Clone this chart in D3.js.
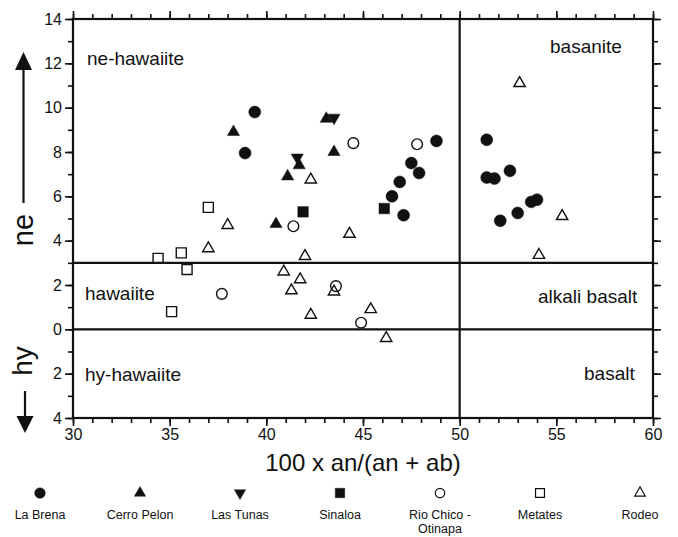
<!DOCTYPE html>
<html>
<head>
<meta charset="utf-8">
<script src="https://cdn.jsdelivr.net/npm/d3@7"></script>
<style>
  body { margin: 0; background: #fff; }
  text { font-family: "Liberation Sans", Arial, sans-serif; fill: #111; }
</style>
</head>
<body>
<div id="chart"></div>
<script>
// data: [100 x an/(an+ab), ne (+) / hy (-)]
var laBrena = [[39.4, 9.8], [38.9, 7.95], [48.8, 8.5], [47.5, 7.5], [47.9, 7.05], [46.9, 6.65],
  [46.5, 6.0], [47.1, 5.15], [51.4, 8.55], [51.4, 6.85], [51.8, 6.8], [52.6, 7.15],
  [53.7, 5.75], [54.0, 5.85], [53.0, 5.25], [52.1, 4.9]];
var cerroPelon = [[38.3, 8.9], [43.1, 9.5], [43.5, 8.0], [41.7, 7.4], [41.1, 6.9], [40.5, 4.75]];
var lasTunas = [[43.5, 9.55], [41.6, 7.75]];
var sinaloa = [[41.9, 5.3], [46.1, 5.45]];
var rioChico = [[44.5, 8.4], [47.8, 8.35], [41.4, 4.65], [37.7, 1.6], [43.6, 1.95], [44.9, 0.3]];
var metates = [[37.0, 5.5], [34.4, 3.2], [35.6, 3.45], [35.9, 2.7], [35.1, 0.8]];
var rodeo = [[38.0, 4.7], [42.3, 6.75], [44.3, 4.3], [53.1, 11.1], [55.3, 5.1], [54.1, 3.35],
  [37.0, 3.65], [42.0, 3.3], [40.9, 2.6], [41.75, 2.25], [41.3, 1.75], [43.5, 1.7],
  [42.3, 0.65], [45.4, 0.9], [46.2, -0.4]];

var xTicks = [30, 35, 40, 45, 50, 55, 60];
var yTicks = [14, 12, 10, 8, 6, 4, 2, 0, -2, -4];
var boundaryX = [50];
var boundaryY = [3, 0];

var legendNames = ["La Brena", "Cerro Pelon", "Las Tunas", "Sinaloa", "Rio Chico -|Otinapa", "Metates", "Rodeo"];

var W = 678, H = 537;
var x = d3.scaleLinear().domain([30, 60]).range([73, 653]);
var y = d3.scaleLinear().domain([-4, 14]).range([418, 19]);

var svg = d3.select("#chart").append("svg")
  .attr("width", W)
  .attr("height", H);

// minor + major ticks on all four sides
function ticks(axisFn, minorVals, majorVals, labelled, transform) {
  svg.append("g")
    .attr("transform", transform)
    .call(axisFn.tickValues(minorVals).tickSize(5).tickFormat(""))
    .call(function(g) { g.select(".domain").remove(); });
  svg.append("g")
    .attr("class", "major")
    .attr("transform", transform)
    .call(axisFn.tickValues(majorVals).tickSize(8)
      .tickFormat(labelled ? function(d) { return Math.abs(d); } : ""))
    .call(function(g) { g.select(".domain").remove(); });
}
var xMinor = d3.range(30, 61, 1);
var yMinor = d3.range(-4, 15, 1);
ticks(d3.axisBottom(x), xMinor, xTicks, true, "translate(0," + y(-4) + ")");
ticks(d3.axisTop(x), xMinor, xTicks, false, "translate(0," + y(14) + ")");
ticks(d3.axisLeft(y), yMinor, yTicks, true, "translate(" + x(30) + ",0)");
ticks(d3.axisRight(y), yMinor, yTicks, false, "translate(" + x(60) + ",0)");

svg.selectAll(".tick line").attr("stroke", "#111").attr("stroke-width", 1.6);
svg.selectAll(".tick text")
  .style("font-size", "16px")
  .style("font-family", "'Liberation Sans', Arial, sans-serif")
  .attr("fill", "#111");

// frame
svg.append("rect")
  .attr("x", x(30)).attr("y", y(14))
  .attr("width", x(60) - x(30)).attr("height", y(-4) - y(14))
  .attr("fill", "none").attr("stroke", "#111").attr("stroke-width", 2.2);

// field boundaries
svg.selectAll(".hline").data(boundaryY).enter().append("line")
  .attr("x1", x(30)).attr("x2", x(60))
  .attr("y1", function(d) { return y(d); }).attr("y2", function(d) { return y(d); })
  .attr("stroke", "#111").attr("stroke-width", 2.2);
svg.selectAll(".vline").data(boundaryX).enter().append("line")
  .attr("x1", function(d) { return x(d); }).attr("x2", function(d) { return x(d); })
  .attr("y1", y(14)).attr("y2", y(-4))
  .attr("stroke", "#111").attr("stroke-width", 2.2);

// field names
var fields = [
  ["ne-hawaiite", 87, 65], ["basanite", 550, 53],
  ["hawaiite", 85, 300], ["alkali basalt", 538, 303],
  ["hy-hawaiite", 85, 381], ["basalt", 584, 380]
];
svg.selectAll(".field").data(fields).enter().append("text")
  .attr("x", function(d) { return d[1]; })
  .attr("y", function(d) { return d[2]; })
  .style("font-size", "19px")
  .text(function(d) { return d[0]; });

// symbols
var tri = d3.symbol().type(d3.symbolTriangle).size(64)();
var circ = d3.symbol().type(d3.symbolCircle).size(113)();
var ocirc = d3.symbol().type(d3.symbolCircle).size(90)();
var sq = d3.symbol().type(d3.symbolSquare).size(110)();
var osq = d3.symbol().type(d3.symbolSquare).size(100)();
var otri = d3.symbol().type(d3.symbolTriangle).size(56)();

var series = [
  { data: laBrena, path: circ, fill: "#111", rot: 0 },
  { data: cerroPelon, path: tri, fill: "#111", rot: 0 },
  { data: lasTunas, path: tri, fill: "#111", rot: 180 },
  { data: sinaloa, path: sq, fill: "#111", rot: 0 },
  { data: rioChico, path: ocirc, fill: "#fff", rot: 0 },
  { data: metates, path: osq, fill: "#fff", rot: 0 },
  { data: rodeo, path: otri, fill: "#fff", rot: 0 }
];

series.forEach(function(s) {
  svg.append("g").selectAll("path").data(s.data).enter().append("path")
    .attr("d", s.path)
    .attr("transform", function(d) {
      return "translate(" + x(d[0]) + "," + y(d[1]) + ") rotate(" + s.rot + ")";
    })
    .attr("fill", s.fill === "#fff" ? "none" : s.fill)
    .attr("stroke", "#111")
    .attr("stroke-width", s.fill === "#fff" ? 1.4 : 0.5);
});

// axis titles
svg.append("text")
  .attr("x", x(45)).attr("y", 471)
  .attr("text-anchor", "middle")
  .style("font-size", "24px")
  .text("100 x an/(an + ab)");

svg.append("text")
  .attr("transform", "translate(33,230) rotate(-90)")
  .attr("text-anchor", "middle")
  .style("font-size", "29px")
  .text("ne");
svg.append("text")
  .attr("transform", "translate(32,361) rotate(-90)")
  .attr("text-anchor", "middle")
  .style("font-size", "28px")
  .text("hy");

// arrows
svg.append("line").attr("x1", 23.5).attr("x2", 23.5).attr("y1", 203).attr("y2", 66)
  .attr("stroke", "#111").attr("stroke-width", 2.2);
svg.append("path").attr("d", "M23.5,52 L32,70 L15,70 Z").attr("fill", "#111");
svg.append("line").attr("x1", 25).attr("x2", 25).attr("y1", 391).attr("y2", 420)
  .attr("stroke", "#111").attr("stroke-width", 2.2);
svg.append("path").attr("d", "M25,433 L33.5,416 L16.5,416 Z").attr("fill", "#111");

// legend
var lx = d3.scalePoint().domain(legendNames).range([40, 640]);
var legend = svg.selectAll(".legend").data(legendNames).enter().append("g")
  .attr("transform", function(d) { return "translate(" + lx(d) + ",0)"; });

legend.append("path")
  .attr("d", function(d, i) {
    var sizes = [90, 56, 56, 90, 70, 80, 48];
    var type = [d3.symbolCircle, d3.symbolTriangle, d3.symbolTriangle, d3.symbolSquare,
      d3.symbolCircle, d3.symbolSquare, d3.symbolTriangle][i];
    return d3.symbol().type(type).size(sizes[i])();
  })
  .attr("transform", function(d, i) { return "translate(0,493) rotate(" + series[i].rot + ")"; })
  .attr("fill", function(d, i) { return series[i].fill === "#fff" ? "none" : "#111"; })
  .attr("stroke", "#111")
  .attr("stroke-width", function(d, i) { return series[i].fill === "#fff" ? 1.2 : 0.4; });

legend.each(function(d) {
  var lines = d.split("|");
  var t = d3.select(this).append("text")
    .attr("text-anchor", "middle")
    .style("font-size", "12.5px");
  lines.forEach(function(l, j) {
    t.append("tspan").attr("x", 0).attr("y", 519 + j * 14).text(l);
  });
});
</script>
</body>
</html>
